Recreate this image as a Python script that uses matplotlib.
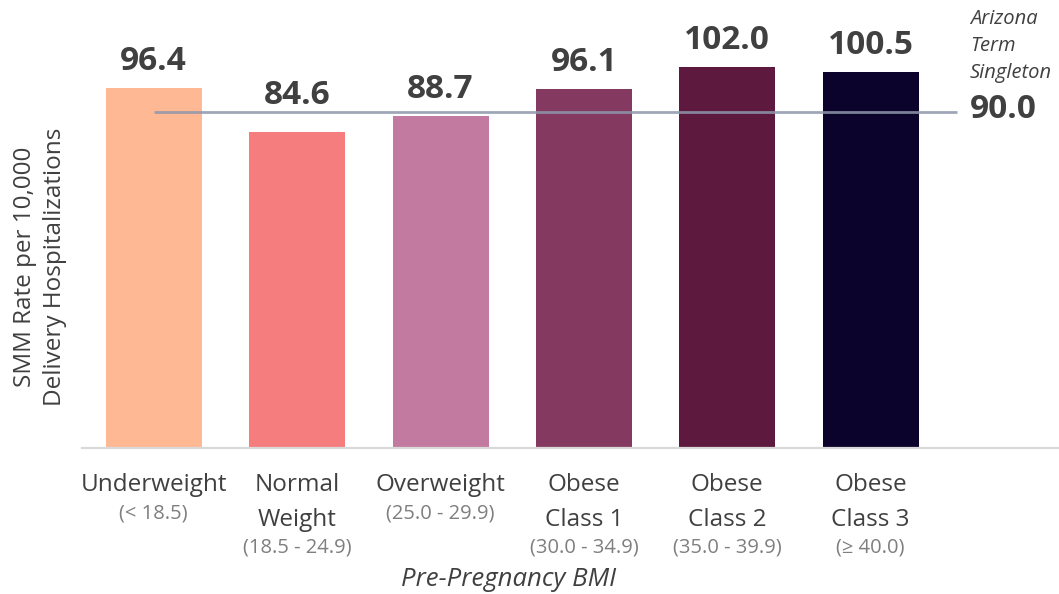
import matplotlib
matplotlib.use("Agg")
import matplotlib.pyplot as plt

categories = ["Underweight", "Normal\nWeight", "Overweight", "Obese\nClass 1", "Obese\nClass 2", "Obese\nClass 3"]
bmi_ranges = ["(< 18.5)", "(18.5 - 24.9)", "(25.0 - 29.9)", "(30.0 - 34.9)", "(35.0 - 39.9)", "(\u2265 40.0)"]
smm_rates = [96.4, 84.6, 88.7, 96.1, 102.0, 100.5]
arizona_rate = 90.0
arizona_label = "Arizona\nTerm\nSingleton"
bar_colors = ["#FFB894", "#F57D7D", "#C27AA0", "#843A60", "#5E1A3E", "#0C032C"]

plt.rcParams['font.family'] = ['Open Sans', 'DejaVu Sans']

W, H = 1059, 594
fig = plt.figure(figsize=(W / 100, H / 100), dpi=100)
ax_left, ax_bottom_px = 82, 448
ax = fig.add_axes([ax_left / W, (H - ax_bottom_px) / H, (W - ax_left) / W, ax_bottom_px / H])

spacing = 143.4
xs = list(range(len(categories)))
ax.bar(xs, smm_rates, width=96 / spacing, color=bar_colors, zorder=2)
ax.set_xlim(-0.5, -0.5 + (W - ax_left) / spacing)
ax.set_ylim(0, ax_bottom_px / 3.738)

# reference line
ax.plot([0, 5.6], [arizona_rate, arizona_rate], color="#8E97AB", lw=2.0, alpha=0.85, zorder=3,
        solid_capstyle='butt')

for s in ["top", "right", "left"]:
    ax.spines[s].set_visible(False)
ax.spines["bottom"].set_color("#D9D9D9")
ax.spines["bottom"].set_linewidth(1.6)
ax.set_xticks([])
ax.set_yticks([])

dark = "#404040"
px2pt = 72 / 100
ppu = 3.738  # pixels per unit
line_px = arizona_rate * ppu
for x, v in zip(xs, smm_rates):
    gap = 18
    bottom_px = v * ppu + gap
    if abs(bottom_px - line_px) < 10:
        bottom_px = line_px + 8
    ax.annotate(f"{v:.1f}", xy=(x, 0), xytext=(0, bottom_px * px2pt), textcoords="offset points",
                ha="center", va="baseline", fontsize=24, fontweight="bold", color=dark, zorder=4)

# category labels
xt = ax.get_xaxis_transform()
for x, name, sub in zip(xs, categories, bmi_ranges):
    lines = name.split("\n")
    for i, ln in enumerate(lines):
        yc = 37 + 35 * i
        ax.text(x, -yc / ax_bottom_px, ln, transform=xt, ha="center", va="center",
                fontsize=17.5, color=dark)
    ys = 37 + 35 * (len(lines) - 1) + 28
    ax.text(x, -ys / ax_bottom_px, sub, transform=xt, ha="center", va="center",
            fontsize=14.5, color="#7F7F7F")

fig.text(509 / W, 1 - 580 / H, "Pre-Pregnancy BMI", ha="center", va="center",
         fontsize=18.5, style="italic", color=dark)

fig.text(40 / W, 1 - 267 / H, "SMM Rate per 10,000\nDelivery Hospitalizations", rotation=90,
         ha="center", va="center", fontsize=17.5, color=dark, linespacing=1.3, multialignment="center")

for i, ln in enumerate(arizona_label.split("\n")):
    fig.text(970 / W, 1 - (19 + 27 * i) / H, ln, ha="left", va="center", fontsize=14.5,
             style="italic", color=dark)
fig.text(970 / W, 1 - 110 / H, f"{arizona_rate:.1f}", ha="left", va="center", fontsize=24,
         fontweight="bold", color=dark)

fig.savefig("out.png", dpi=100)
